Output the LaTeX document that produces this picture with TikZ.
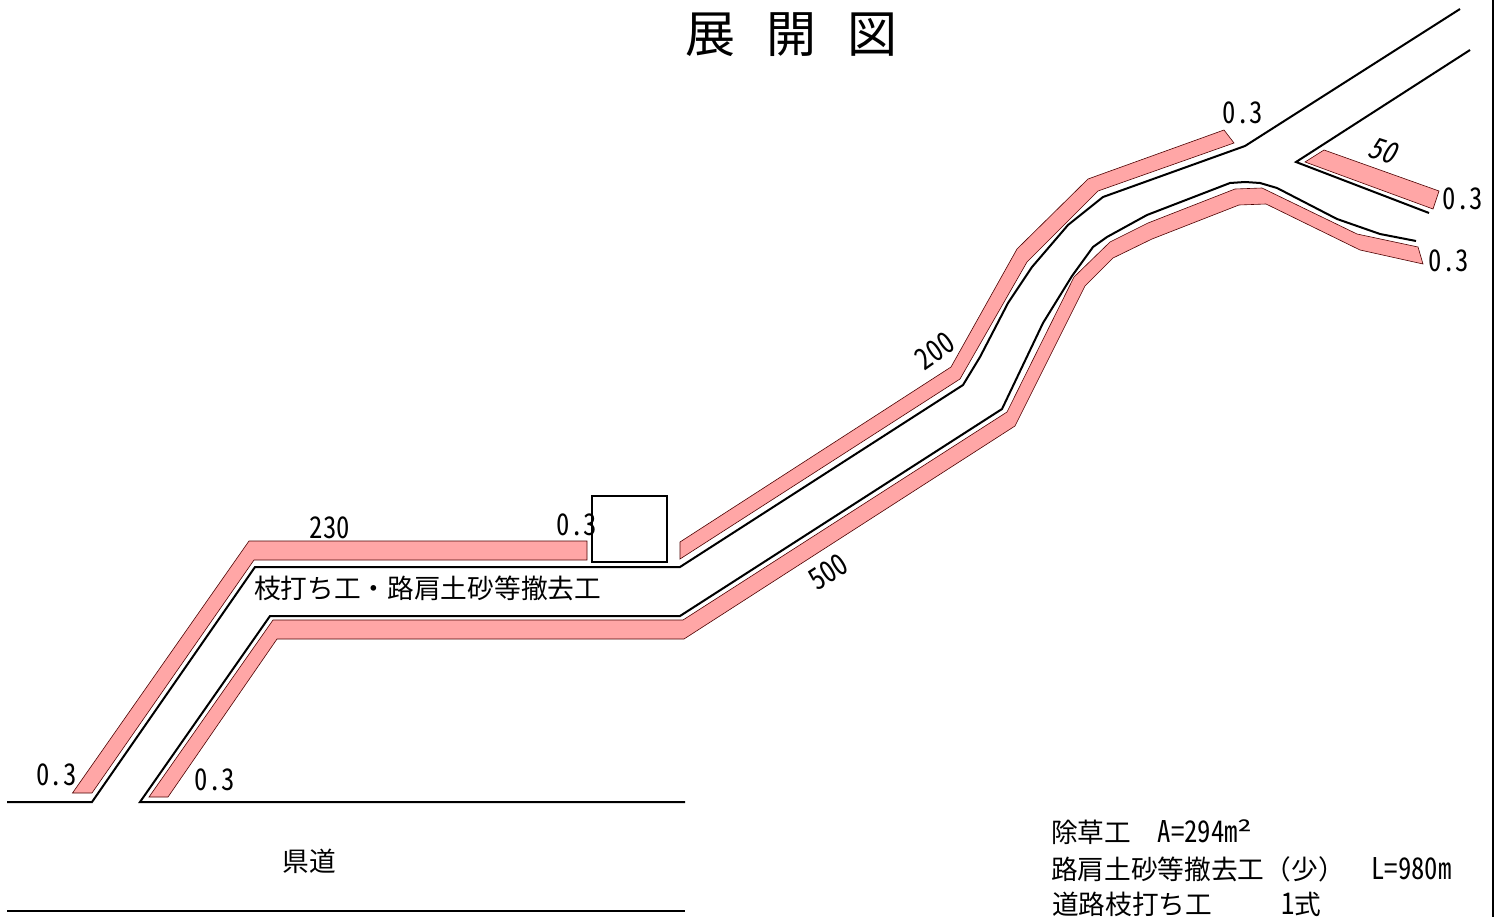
\documentclass[tikz,border=0pt]{standalone}
\usepackage{fontspec}
\setmainfont[RawFeature=+hwid]{Noto Sans CJK JP}
\newfontfamily\fullw{Noto Sans CJK JP}
\newcommand{\tl}[1]{\scalebox{1}[1.12]{#1}}
\tikzset{
  road/.style={draw=black,line width=2pt,line join=miter},
  berm/.style={draw=black!70!red,line width=0.6pt,fill=pinkfill,line join=miter},
  lbl/.style={inner sep=0pt,outer sep=0pt,font=\fontsize{26.7pt}{30pt}\selectfont},
}
\definecolor{pinkfill}{HTML}{FFA6A6}
\begin{document}
\begin{tikzpicture}[x=1pt,y=-1pt]
\useasboundingbox (0,0) rectangle (1499,917);
% frame edge
\draw[line width=1.2pt] (1493,0) -- (1493,917);
% berms
\path[berm] (72.5,793) -- (249,541) -- (587,541) -- (587,560) -- (254,560) -- (92,793) -- cycle;
\path[berm] (680,542) -- (951,367) -- (1017,249) -- (1088,179) -- (1224,130) -- (1234,143) -- (1098,191) -- (1027,262) -- (960,379) -- (680,559) -- cycle;
\path[berm] (149,797) -- (273,620) -- (683,620) -- (1007,412) -- (1074,277) -- (1110,242) -- (1148,223) -- (1235,189) -- (1262,188) -- (1357,234) -- (1418,247) -- (1423,264) -- (1360,250) -- (1266,204) -- (1239,205) -- (1152,239) -- (1113,258) -- (1085,286) -- (1015,426) -- (684,639) -- (277,639) -- (168,797) -- cycle;
\path[berm] (1305,162) -- (1324,150) -- (1439,191) -- (1433,209) -- cycle;
% roads
\draw[road] (7,802) -- (92,802) -- (255,567) -- (680,567) -- (963,385) -- (980,357) -- (1008,303) -- (1032,267) -- (1068,225) -- (1103,197) -- (1245,146) -- (1460,9);
\draw[road] (685,802) -- (140,802) -- (270,616) -- (680,616) -- (1002,409) -- (1043,323) -- (1072,276) -- (1093,247) -- (1107,237) -- (1147,215) -- (1230,183) -- (1245,182) -- (1260,183) -- (1277,188) -- (1337,219) -- (1380,234) -- (1416,241);
\draw[road] (1470,50) -- (1296,162) -- (1429,213);
\draw[road] (7,911) -- (685,911);
\node[draw=black,line width=2pt,minimum width=75pt,minimum height=66pt,anchor=north west,inner sep=0pt] (box) at (591,495) {};
% title
\node[lbl,font=\fontsize{50pt}{54pt}\selectfont] (title) at (791.5,35) {展\hspace{31pt}開\hspace{31pt}図};
% labels
\node[lbl] (a) at (56.5,775) {\tl{0.3}};
\node[lbl] (b) at (215,780) {\tl{0.3}};
\node[lbl] (c) at (330,528) {\tl{230}};
\node[lbl] (d) at (577,525) {\tl{0.3}};
\node[lbl] (e) at (1243,113) {\tl{0.3}};
\node[lbl] (f) at (1463,199) {\tl{0.3}};
\node[lbl] (g) at (1449,261) {\tl{0.3}};
\node[lbl,rotate=-18,xslant=0.2] (h) at (1385,151) {\tl{50}};
\node[lbl,rotate=35] (i) at (935,351) {\tl{200}};
\node[lbl,rotate=33] (j) at (828,572) {\tl{500}};
\node[lbl,anchor=west] (k) at (254,588) {枝打ち工・路肩土砂等撤去工};
\node[lbl] (l) at (309,861) {県道};
\node[lbl,anchor=base west] (m) at (1051,842) {除草工\hspace{26.7pt}\tl{A=294m}\raisebox{-1pt}{\scalebox{1.35}[1]{²}}};
\node[lbl,anchor=base west] (n) at (1051,879) {路肩土砂等撤去工{\fullw （少）}\hspace{13.4pt}\hspace{13.4pt}\tl{L=980m}};
\node[lbl,anchor=base west] (o) at (1052,914.5) {道路枝打ち工\hspace{69pt}\tl{1}式};
\end{tikzpicture}
\end{document}
